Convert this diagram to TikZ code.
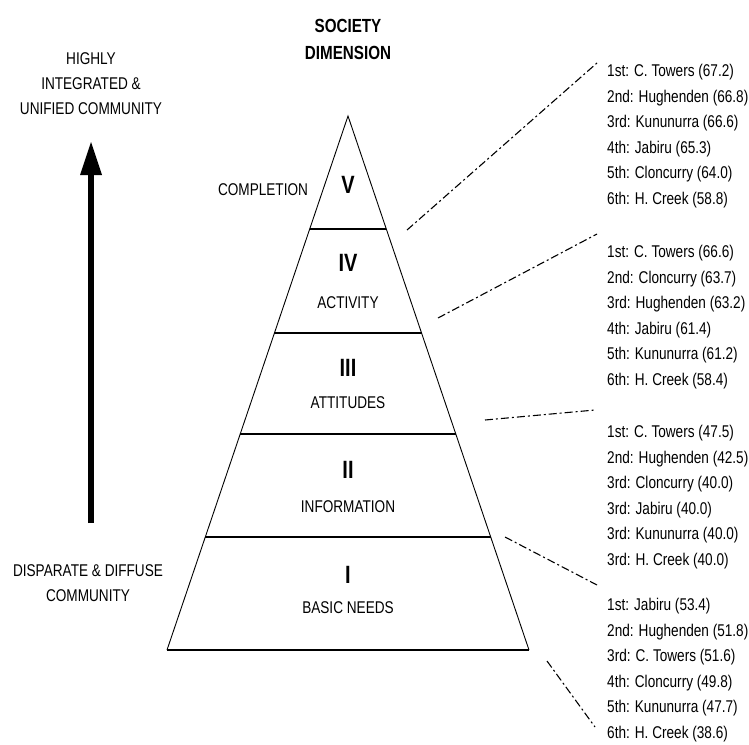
\documentclass[tikz,border=0pt]{standalone}
\usepackage{fontspec}
\setmainfont{Liberation Sans}[FakeStretch=0.8]
\usetikzlibrary{calc}
\begin{document}
\begin{tikzpicture}[x=1pt,y=-1pt,
  lbl/.style={inner sep=0pt,font=\fontsize{17pt}{25pt}\selectfont,align=center},
  rom/.style={inner sep=0pt,font=\fontsize{25pt}{25pt}\selectfont\bfseries},
  ttl/.style={inner sep=0pt,font=\fontsize{19pt}{27pt}\selectfont\bfseries,align=center},
  lst/.style={inner sep=0pt,anchor=west,font=\fontsize{17pt}{25.6pt}\selectfont,align=left},
  side/.style={line width=0.9pt},
  divider/.style={line width=1.8pt},
  leader/.style={line width=1.1pt,dash pattern=on 8pt off 3pt on 2pt off 3pt}]
\useasboundingbox (0,0) rectangle (749,744);
% pyramid
\coordinate (apex) at (348,116);
\coordinate (bl) at (167,650);
\coordinate (br) at (529,650);
\draw[side] (bl) -- (apex) -- (br);
\draw[divider] (bl) -- (br);
\foreach \f/\n in {0.2116/d1,0.4064/d2,0.5955/d3,0.7884/d4}{
  \coordinate (\n l) at ($(apex)!\f!(bl)$);
  \coordinate (\n r) at ($(apex)!\f!(br)$);
  \draw[divider] (\n l) -- (\n r);
}
% title
\node[ttl] (title) at (348,39) {SOCIETY\\DIMENSION};
% levels
\node[rom] (r5) at (348,185) {V};
\node[lbl] (l5) at (263,190) {COMPLETION};
\node[rom] (r4) at (348,263) {IV};
\node[lbl] (l4) at (348,303) {ACTIVITY};
\node[rom] (r3) at (348,368) {III};
\node[lbl] (l3) at (348,403) {ATTITUDES};
\node[rom] (r2) at (348,470) {II};
\node[lbl] (l2) at (348,507) {INFORMATION};
\node[rom] (r1) at (348,575) {I};
\node[lbl] (l1) at (348,608) {BASIC NEEDS};
% left axis
\node[lbl] (top) at (91,84) {HIGHLY\\INTEGRATED \&\\UNIFIED COMMUNITY};
\node[lbl] (bot) at (88,583) {DISPARATE \& DIFFUSE\\COMMUNITY};
\coordinate (ab) at (91,523);
\coordinate (at) at (91,174);
\coordinate (tip) at (91,142);
\draw[line width=6pt] (ab) -- (at);
\fill (80,175) -- (tip) -- (102,175) -- cycle;
% lists
\node[lst] (g1) at (607,136) {1st: C. Towers (67.2)\\2nd: Hughenden (66.8)\\3rd: Kununurra (66.6)\\4th: Jabiru (65.3)\\5th: Cloncurry (64.0)\\6th: H. Creek (58.8)};
\node[lst] (g2) at (607,317) {1st: C. Towers (66.6)\\2nd: Cloncurry (63.7)\\3rd: Hughenden (63.2)\\4th: Jabiru (61.4)\\5th: Kununurra (61.2)\\6th: H. Creek (58.4)};
\node[lst] (g3) at (607,497) {1st: C. Towers (47.5)\\2nd: Hughenden (42.5)\\3rd: Cloncurry (40.0)\\3rd: Jabiru (40.0)\\3rd: Kununurra (40.0)\\3rd: H. Creek (40.0)};
\node[lst] (g4) at (607,670) {1st: Jabiru (53.4)\\2nd: Hughenden (51.8)\\3rd: C. Towers (51.6)\\4th: Cloncurry (49.8)\\5th: Kununurra (47.7)\\6th: H. Creek (38.6)};
% leaders
\coordinate (a1) at (407,230); \coordinate (b1) at (597,63);
\coordinate (a2) at (438,318); \coordinate (b2) at (597,234);
\coordinate (a3) at (485,420); \coordinate (b3) at (595,410);
\coordinate (a4) at (505,537); \coordinate (b4) at (597,585);
\coordinate (a5) at (547,661); \coordinate (b5) at (595,727);
\foreach \i in {1,...,5}{\draw[leader] (a\i) -- (b\i);}
\end{tikzpicture}
\end{document}
